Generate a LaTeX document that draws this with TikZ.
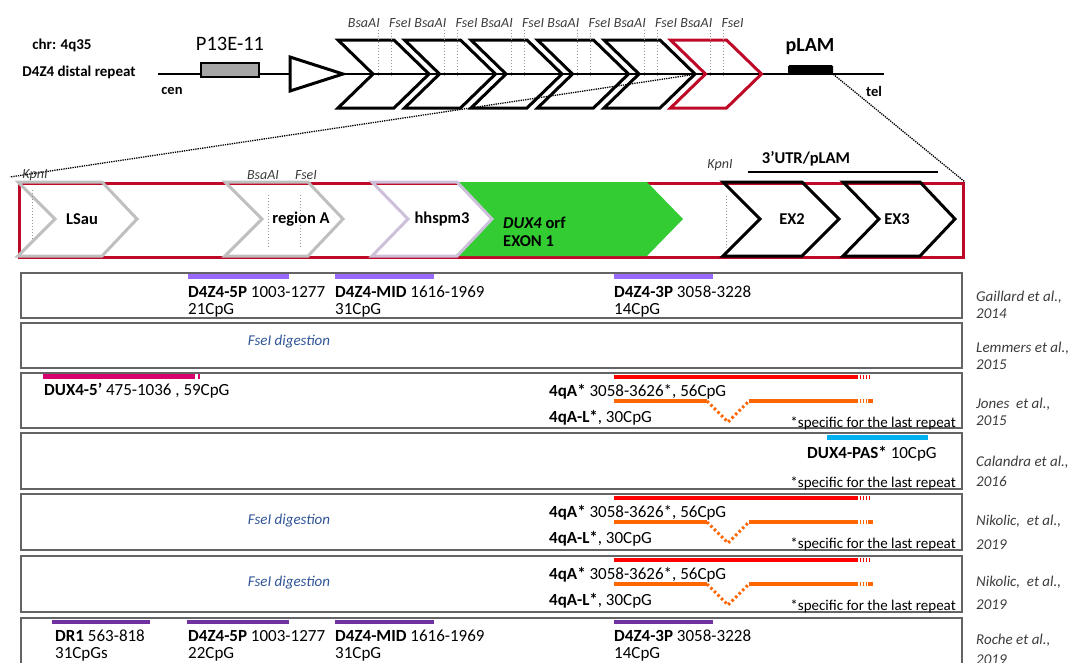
\documentclass[tikz,border=0pt]{standalone}
\usepackage{fontspec}
\setmainfont{Carlito}
\definecolor{dred}{RGB}{190,10,40}
\definecolor{chevgray}{RGB}{191,191,191}
\definecolor{lav}{RGB}{204,192,218}
\definecolor{orfgreen}{RGB}{51,204,51}
\definecolor{boxgray}{RGB}{100,100,100}
\definecolor{probe}{RGB}{155,105,250}
\definecolor{probedark}{RGB}{112,48,160}
\definecolor{magbar}{RGB}{214,0,110}
\definecolor{redbar}{RGB}{255,0,0}
\definecolor{orangebar}{RGB}{255,102,0}
\definecolor{cyanbar}{RGB}{0,176,240}
\definecolor{digblue}{RGB}{47,85,151}
\definecolor{refgray}{RGB}{60,60,60}
\begin{document}
\begin{tikzpicture}[x=1pt, y=-1pt,
    chev/.style={line width=3pt},
    cutline/.style={black!40, dotted, line width=1pt},
    cutlbl/.style={font=\fontsize{14}{16}\selectfont\itshape, text=refgray, inner sep=0pt},
    gene/.style={font=\fontsize{16.5}{18}\selectfont\bfseries, inner sep=0pt},
    row/.style={draw=boxgray, line width=1.5pt},
    probebar/.style={line width=4.5pt},
    lbl/.style={font=\fontsize{17}{17}\selectfont, align=left, anchor=north west, inner sep=0pt},
    foot/.style={font=\fontsize{15}{17}\selectfont, anchor=base east, inner sep=0pt},
    digtxt/.style={font=\fontsize{15}{17}\selectfont\itshape, text=digblue, inner sep=0pt},
    reflbl/.style={font=\fontsize{15}{17}\selectfont\itshape, text=refgray, align=left, anchor=north west, inner sep=0pt}]
	%\draw [help lines] (0,0) grid (1070,662);
	\clip (0,0) rectangle (1070,662);

	% chromosome 4q35
	\node[font=\fontsize{15}{17}\selectfont\bfseries] (chr) at (62,45) {chr: 4q35};
	\node[font=\fontsize{15}{17}\selectfont\bfseries] (dist) at (79,72) {D4Z4 distal repeat};
	\draw[line width=2.5pt] (158,74) -- (884,74);
	\node[font=\fontsize{14.5}{16}\selectfont\bfseries] (cen) at (172,91) {cen};
	\node[font=\fontsize{14.5}{16}\selectfont\bfseries] (tel) at (874,91) {tel};
	\node[draw, line width=2.5pt, fill=black!35, minimum width=58pt, minimum height=14pt, inner sep=0pt] (p13) at (230,70) {};
	\node[font=\fontsize{20.5}{22}\selectfont] (p13lbl) at (230,44) {P13E-11};
	\draw[line width=3pt, fill=white] (290,57) -- (343,74) -- (290,91) -- cycle;
	\foreach \i/\c in {0/black,1/black,2/black,3/black,4/black,5/dred} {
		\pgfmathsetmacro\x{338+66.5*\i}
		\draw[chev, draw=\c] (\x,40) -- ++(56,0) -- ++(35,34) -- ++(-35,34) -- ++(-56,0) -- ++(35,-34) -- cycle;
		\draw[cutline] (\x+40,30) -- (\x+40,77) (\x+53,30) -- (\x+53,77);
		\node[cutlbl, anchor=east] (bsa\i) at (\x+42,23) {BsaAI};
		\node[cutlbl, anchor=west] (fse\i) at (\x+51,23) {FseI};
	}
	\node[fill, rounded corners=1.5pt, minimum width=45pt, minimum height=9pt, inner sep=0pt] (plam) at (810.5,69.5) {};
	\node[font=\fontsize{20}{22}\selectfont\bfseries] (plamlbl) at (810,47) {pLAM};

	% one repeat
	\node[draw=dred, line width=3pt, minimum width=944pt, minimum height=74pt, inner sep=0pt, anchor=north west] (exp) at (18,182) {};
	\coordinate (zoomL) at (697,74);
	\coordinate (expL) at (10,177);
	\draw[densely dotted, line width=1.3pt] (zoomL) -- (expL);
	\draw[densely dotted, line width=1.3pt] (plam.south east) -- (exp.north east);
	\fill[orfgreen] (455,182) -- (647,182) -- (683,219) -- (647,256) -- (455,256) -- (492,219) -- cycle;
	\draw[chev, chevgray] (18,182) -- (102,182) -- (137,219) -- (102,256) -- (18,256) -- (55,219) -- cycle;
	\draw[chev, chevgray] (225,182) -- (308,182) -- (343,219) -- (308,256) -- (225,256) -- (262,219) -- cycle;
	\draw[chev, lav] (372,182) -- (457,182) -- (492,219) -- (457,256) -- (372,256) -- (408,219) -- cycle;
	\draw[chev] (723,182) -- (802,182) -- (839,219) -- (802,256) -- (723,256) -- (760,219) -- cycle;
	\draw[chev] (843,182) -- (920,182) -- (955,219) -- (920,256) -- (843,256) -- (879,219) -- cycle;
	\draw[cutline] (32,190) -- (32,240);
	\draw[cutline] (268,195) -- (268,247) (300,195) -- (300,247);
	\draw[cutline] (726,196) -- (726,250);
	\node[cutlbl] (kpn1) at (35,175) {KpnI};
	\node[cutlbl] (bsam) at (263,175) {BsaAI};
	\node[cutlbl] (fsem) at (306,175) {FseI};
	\node[cutlbl] (kpn2) at (720,165) {KpnI};
	\node[gene] (utr) at (806,159) {3'UTR/pLAM};
	\draw[line width=1.5pt] (748,172) -- (938,172);
	\node[gene] (lsau) at (82,219) {LSau};
	\node[gene] (rega) at (301,219) {region A};
	\node[gene] (hhs) at (442,219) {hhspm3};
	\node[gene, align=left, anchor=west] (orf) at (503,232) {\textit{DUX4} orf\\EXON 1};
	\node[gene] (ex2) at (792,219) {EX2};
	\node[gene] (ex3) at (897,219) {EX3};

	% methylation studies
	\draw[row] (21,273) rectangle (962,318);
	\draw[row] (21,323) rectangle (962,368);
	\draw[row] (21,373) rectangle (962,428);
	\draw[row] (21,433) rectangle (962,489);
	\draw[row] (21,494) rectangle (962,550);
	\draw[row] (21,556) rectangle (962,612);
	\draw[row] (21,618) rectangle (962,700);

	\draw[probebar, probe] (188,276.5) -- (289,276.5) (335,276.5) -- (434,276.5) (614,276.5) -- (713,276.5);
	\node[lbl] (g5p) at (188,286) {\textbf{D4Z4-5P} 1003-1277\\21CpG};
	\node[lbl] (gmid) at (335,286) {\textbf{D4Z4-MID} 1616-1969\\31CpG};
	\node[lbl] (g3p) at (614,286) {\textbf{D4Z4-3P} 3058-3228\\14CpG};

	\node[digtxt] (dig1) at (289,342) {FseI digestion};

	\draw[probebar, magbar] (43,376.5) -- (195,376.5) (198,376.5) -- (200,376.5);
	\node[lbl] (dux5) at (44,383) {\textbf{DUX4-5'} 475-1036 , 59CpG};
	\foreach \r/\n in {377/a,498/b,560/c} {
		\draw[probebar, redbar] (614,\r) -- (858,\r);
		\draw[redbar, line width=4.5pt, dash pattern=on 1.5pt off 1.5pt] (859.5,\r) -- (869,\r);
		\draw[probebar, orangebar] (614,\r+24) -- (707,\r+24);
		\draw[orangebar, line width=3pt, dash pattern=on 2.5pt off 2.5pt] (707,\r+24) -- (728,\r+45) -- (749,\r+24);
		\draw[probebar, orangebar] (749,\r+24) -- (858,\r+24);
		\draw[orangebar, line width=4.5pt, dash pattern=on 1.5pt off 1.5pt] (859.5,\r+24) -- (866,\r+24);
		\draw[probebar, orangebar] (867.5,\r+24) -- (873,\r+24);
		\node[lbl] (qa\n) at (549,\r+7) {\textbf{4qA*} 3058-3626*, 56CpG};
		\node[lbl] (qal\n) at (549,\r+33) {\textbf{4qA-L*}, 30CpG};
		\node[foot] (ft\n) at (956,\r+50) {*specific for the last repeat};
	}

	\draw[probebar, cyanbar] (827,437.5) -- (928,437.5);
	\node[lbl] (pas) at (807,446) {\textbf{DUX4-PAS*} 10CpG};
	\node[foot] (ftd) at (956,487) {*specific for the last repeat};

	\node[digtxt] (dig2) at (289,521) {FseI digestion};
	\node[digtxt] (dig3) at (289,583) {FseI digestion};

	\draw[probebar, probedark] (52,622) -- (150,622) (187,622) -- (289,622) (335,622) -- (434,622) (614,622) -- (713,622);
	\node[lbl] (dr1) at (55,630) {\textbf{DR1} 563-818\\31CpGs};
	\node[lbl] (r5p) at (188,630) {\textbf{D4Z4-5P} 1003-1277\\22CpG};
	\node[lbl] (rmid) at (335,630) {\textbf{D4Z4-MID} 1616-1969\\31CpG};
	\node[lbl] (r3p) at (614,630) {\textbf{D4Z4-3P} 3058-3228\\14CpG};

	% references
	\node[reflbl] (gai) at (976,291) {Gaillard et al.,\\2014};
	\node[reflbl] (lem) at (976,342) {Lemmers et al.,\\2015};
	\node[reflbl] (jon) at (976,398) {Jones\ \ et al.,\\2015};
	\node[reflbl] (cal) at (976,456) {Calandra et al.,\\[3pt]2016};
	\node[reflbl] (nik1) at (976,515) {Nikolic,\ \ et al.,\\[7pt]2019};
	\node[reflbl] (nik2) at (976,576) {Nikolic,\ \ et al.,\\[6pt]2019};
	\node[reflbl] (roc) at (976,634) {Roche et al.,\\[3pt]2019};
\end{tikzpicture}
\end{document}
